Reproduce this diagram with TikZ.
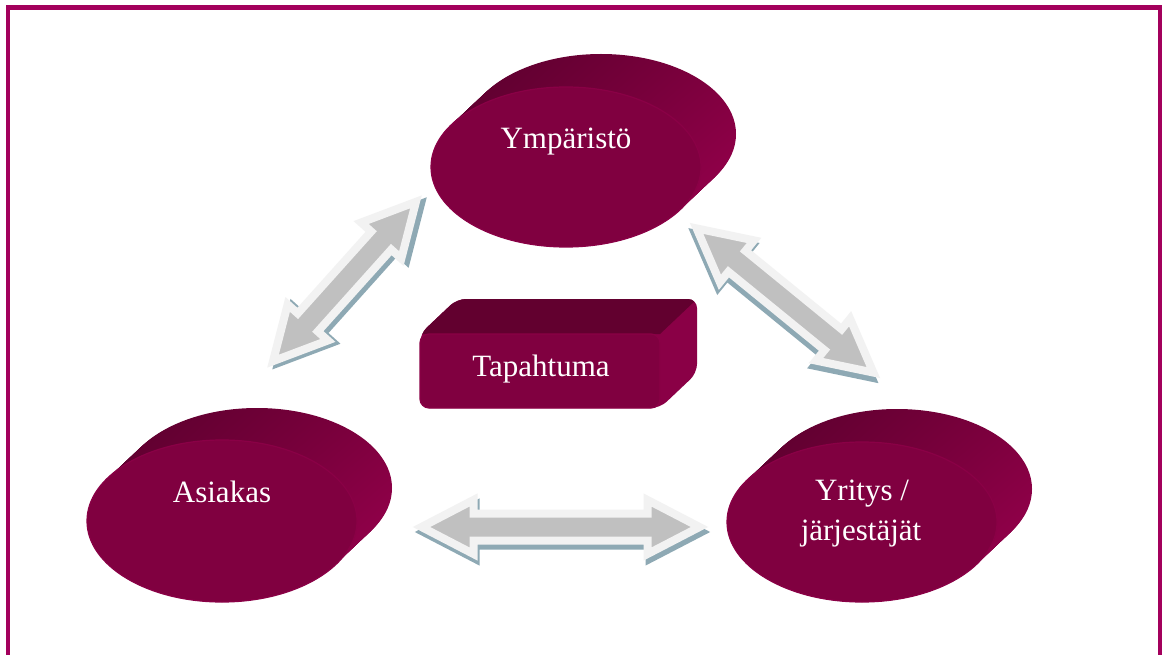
\documentclass[tikz,border=0pt]{standalone}
\usepackage{fontspec}
\setmainfont{Liberation Serif}
\usetikzlibrary{shapes.geometric,shadings}
\definecolor{wine}{HTML}{800040}
\definecolor{winerim}{HTML}{8A0046}
\definecolor{wineUL}{HTML}{56002B}
\definecolor{wineUR}{HTML}{7E003E}
\definecolor{wineLL}{HTML}{6E0037}
\definecolor{wineLR}{HTML}{9C0050}
\definecolor{boxtop}{HTML}{62002F}
\definecolor{boxside}{HTML}{8A0046}
\definecolor{frame}{HTML}{A3005C}
\definecolor{arrowgray}{HTML}{C0C0C0}
\definecolor{arrowrim}{HTML}{F2F2F2}
\definecolor{arrowshadow}{HTML}{8EA9B4}
\tikzset{
  x=1pt, y=-1pt,
  frontface/.style={fill=wine, draw=winerim, line width=1.2pt},
  sideshade/.style={upper left=wineUL, upper right=wineUR, lower left=wineLL, lower right=wineLR},
  lbl/.style={text=white, font=\fontsize{31}{37}\selectfont, anchor=base, inner sep=0pt},
  blockarrow/.pic={
    \path[fill=arrowshadow, draw=arrowshadow, line width=8pt, miter limit=20]
      ([shift={(2,5)}]-#1,0) -- ++(52,-27) -- ++(0,13.5) -- ([shift={(2,5)}]#1-52,-13.5) -- ++(0,-13.5) -- ([shift={(2,5)}]#1,0)
      -- ++(-52,27) -- ++(0,-13.5) -- ([shift={(2,5)}]-#1+52,13.5) -- ++(0,13.5) -- cycle;
    \path[fill=arrowgray, draw=arrowrim, line width=8pt, miter limit=20]
      (-#1,0) -- (-#1+52,-27) -- (-#1+52,-13.5) -- (#1-52,-13.5) -- (#1-52,-27) -- (#1,0)
      -- (#1-52,27) -- (#1-52,13.5) -- (-#1+52,13.5) -- (-#1+52,27) -- cycle;
  }
}
\newcommand{\cylsweep}[2]{% center x, center y
  \foreach \t in {0,0.04,...,1.0001}{
    \begin{scope}
      \clip ({#1+35*(1-\t)},{#2-33*(1-\t)}) ellipse [x radius=135, y radius=80];
      \shade[sideshade] ({#1-136},{#2-114}) rectangle ({#1+171},{#2+81});
    \end{scope}
  }
}
\begin{document}
\begin{tikzpicture}
\useasboundingbox (0,0) rectangle (1162,655);
\fill[white] (0,0) rectangle (1162,655);
% frame
\draw[frame, line width=4.5pt] (8,680) -- (8,7.5) -- (1160,7.5) -- (1160,680);

% arrows (behind)
\pic[rotate=48.1] (arrA) at (344.5,281.5) {blockarrow=107};
\pic[rotate=-39.2] (arrB) at (785,300.5) {blockarrow=114};
\pic (arrC) at (560.5,527) {blockarrow=139};

% Ymparisto
\cylsweep{566}{167}
\node[frontface, ellipse, minimum width=270, minimum height=160, inner sep=0] (ymp) at (566,167) {};
\node[lbl] (ymptext) at (566,149) {Ympäristö};

% Asiakas
\cylsweep{222}{521}
\node[frontface, ellipse, minimum width=270, minimum height=162, inner sep=0] (asi) at (222,521) {};
\node[lbl] (asitext) at (222,502) {Asiakas};

% Yritys
\cylsweep{862}{522}
\node[frontface, ellipse, minimum width=270, minimum height=160, inner sep=0] (yri) at (862,522) {};
\node[lbl] (yritext1) at (862,500) {Yritys /};
\node[lbl] (yritext2) at (861,540) {järjestäjät};

% Tapahtuma box
\begin{scope}
  \clip[rounded corners=9] (420,408) -- (420,334) -- (457,299) -- (697,299) -- (697,373) -- (660,408) -- cycle;
  \fill[boxside] (415,295) rectangle (700,412);
  \fill[boxtop] (420,334) -- (457,299) -- (697,299) -- (660,334) -- cycle;
\end{scope}
\node[frontface, rectangle, rounded corners=9, minimum width=240, minimum height=74, inner sep=0] (tap) at (540,371) {};
\node[lbl] (taptext) at (541,376) {Tapahtuma};
\end{tikzpicture}
\end{document}
